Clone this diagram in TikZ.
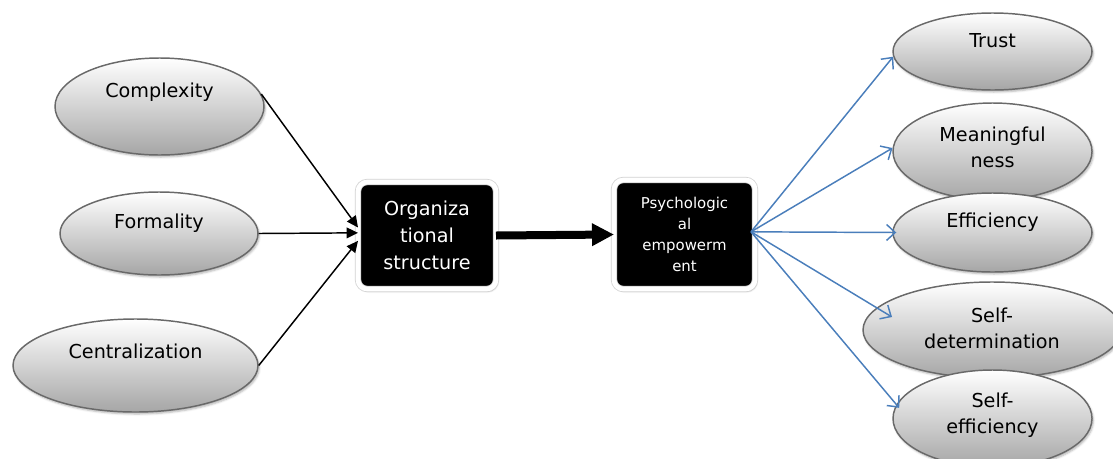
\documentclass[tikz,border=0pt]{standalone}
\usepackage{fontspec}
\setmainfont{DejaVu Sans}
\usetikzlibrary{shapes.geometric,arrows.meta,shadows.blur}
\definecolor{spokeblue}{RGB}{74,126,187}
\definecolor{ovalline}{RGB}{105,105,105}
\tikzset{
  oval/.style={ellipse, draw=ovalline, line width=1.1pt, top color=white,
    bottom color=gray!70, inner sep=0pt, font=\fontsize{14.4}{19.5}\selectfont,
    blur shadow={shadow xshift=1pt, shadow yshift=-1.5pt,
      shadow blur radius=1.5pt, shadow opacity=30}},
  blackbox/.style={rectangle, rounded corners=7pt, fill=black, draw=gray!35,
    double=white, double distance=3.5pt, line width=0.6pt, text=white,
    align=center, inner sep=0pt, outer sep=0pt,
    blur shadow={shadow xshift=1pt, shadow yshift=-1.5pt,
      shadow blur radius=1.5pt, shadow opacity=40}},
  feed/.style={-{Triangle[length=8.5pt,width=8pt]}, line width=1.1pt},
  spoke/.style={-{Straight Barb[length=6.5pt,width=12pt]}, spokeblue, line width=1.1pt}
}
% name, centre, width, height (px), raise, text
\newcommand\ovalnode[6]{%
  \node[oval, minimum width=#3*0.75pt, minimum height=#4*0.75pt] (#1) at (#2)
    {\raisebox{#5}[0pt][0pt]{\begin{tabular}{@{}c@{}}#6\end{tabular}}}
}

\begin{document}
\begin{tikzpicture}[x=0.75pt,y=-0.75pt]
        \useasboundingbox (0,0) rectangle (1113,458);

        % The causes
        \ovalnode{complexity}{159.5,106.5}{209}{97}{7pt}{Complexity};
        \ovalnode{formality}{159,233.5}{198}{83}{4pt}{Formality};
        \ovalnode{centralization}{135.5,365.5}{245}{93}{5.5pt}{Centralization};

        % The two boxes
        \node[blackbox, minimum width=103.5pt, minimum height=80.25pt,
          font=\fontsize{14.4}{20.25}\selectfont] (structure) at (427,235.5)
          {Organiza\\tional\\structure};
        \node[blackbox, minimum width=105.75pt, minimum height=81.75pt,
          font=\fontsize{11.2}{15.75}\selectfont] (empower) at (684.5,234.5)
          {Psychologic\\al\\empowerm\\ent};

        % The effects
        \ovalnode{trust}{992.5,51.5}{199}{77}{3.25pt}{Trust};
        \ovalnode{meaning}{992.5,151.5}{199}{97}{-2pt}{Meaningful\\ness};
        \ovalnode{efficiency}{992.5,232.5}{199}{79}{4pt}{Efficiency};
        \ovalnode{selfdet}{992,330}{258}{96}{-3.5pt}{Self-\\determination};
        \ovalnode{selfeff}{992.5,418.5}{199}{97}{-1.5pt}{Self-\\efficiency};

        % Arrows into the structure
        \draw[feed] (complexity.7) -- ([yshift=6pt]structure.west);
        \draw[feed] (formality.east) -- ([yshift=2pt]structure.west);
        \draw[feed] (centralization.east) -- ([yshift=-4pt]structure.west);
        \draw[-{Triangle[length=16.5pt,width=16pt]}, line width=6pt]
          (structure.east) -- (empower.west);

        % Arrows out of the empowerment
        \draw[spoke] ([xshift=-3pt,yshift=2pt]empower.east) -- (trust.183);
        \draw[spoke] ([xshift=-3pt,yshift=2pt]empower.east) -- (meaning.178);
        \draw[spoke] ([xshift=-3pt,yshift=2pt]empower.east) -- ([xshift=3pt]efficiency.west);
        \draw[spoke] ([xshift=-3pt,yshift=2pt]empower.east) -- ([xshift=-75pt,yshift=9.75pt]selfdet.center);
        \draw[spoke] ([xshift=-3pt,yshift=2pt]empower.east) -- ([xshift=-70pt,yshift=8pt]selfeff.center);
\end{tikzpicture}
\end{document}
